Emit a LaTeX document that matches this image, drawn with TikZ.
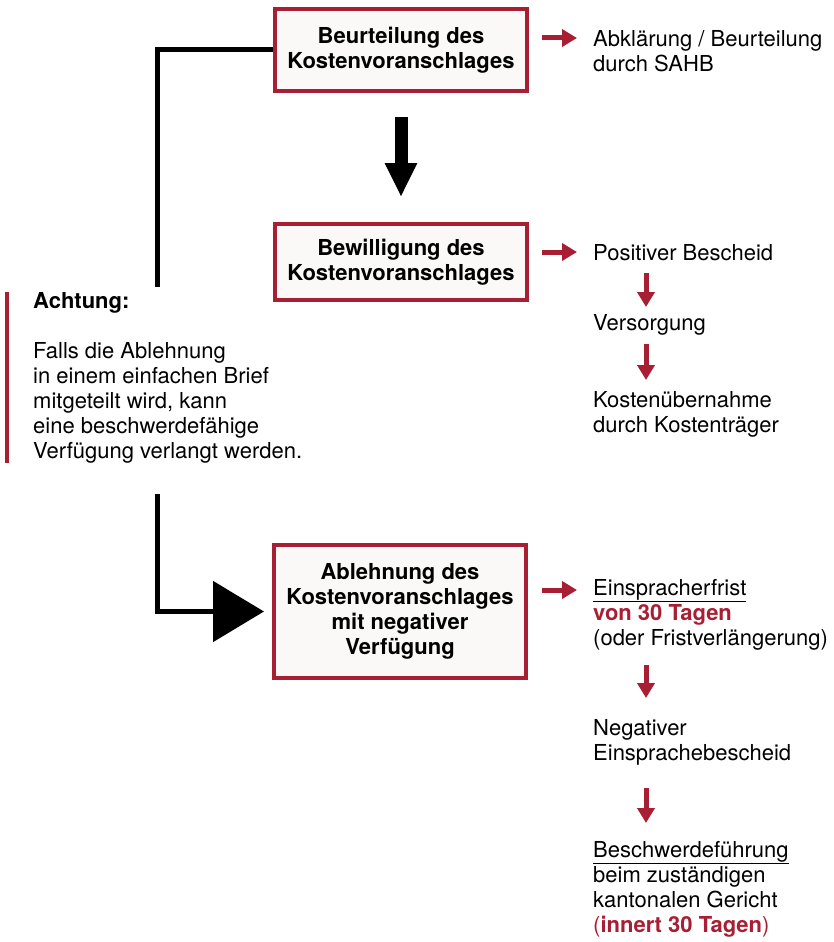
\documentclass[tikz,border=0pt]{standalone}
\usepackage{fontspec}
\setmainfont{TeX Gyre Heros}
\usetikzlibrary{arrows.meta}
\definecolor{kvred}{RGB}{168,31,52}
\definecolor{kvfill}{RGB}{250,249,247}
\tikzset{
  kvbox/.style={draw=kvred, line width=4pt, fill=kvfill, minimum width=252pt, inner sep=0pt, align=center, font=\fontsize{22}{25}\selectfont\bfseries},
  kvtext/.style={anchor=north west, inner sep=0pt, align=left, font=\fontsize{22}{25}\selectfont},
  kvarrow/.style={draw=kvred, line width=5pt, -{Triangle[length=15pt,width=17pt]}},
  kvline/.style={line width=5pt},
}
\begin{document}
\begin{tikzpicture}[x=1pt,y=-1pt]
\useasboundingbox (0,0) rectangle (833,942);
\node[kvbox, minimum height=82pt] (beurt) at (401,50) {Beurteilung des\\Kostenvoranschlages};
\node[kvbox, minimum height=76pt] (bewill) at (401,262) {Bewilligung des\\Kostenvoranschlages};
\node[kvbox, minimum height=133pt] (ablehn) at (400,611.5) {Ablehnung des\\Kostenvoranschlages\\mit negativer\\Verfügung};

\node[kvtext] (abkl) at (593,30) {Abklärung / Beurteilung\\durch SAHB};
\node[kvtext] (posit) at (593,244) {Positiver Bescheid};
\node[kvtext] (versorg) at (593,314) {Versorgung};
\node[kvtext] (uebern) at (593,391) {Kostenübernahme\\durch Kostenträger};
\node[kvtext] (frist) at (593,579) {\underline{Einspracherfrist}\\\textcolor{kvred}{\bfseries von 30 Tagen}\\(oder Fristverlängerung)};
\node[kvtext] (einspr) at (593,719) {Negativer\\Einsprachebescheid};
\node[kvtext] (beschw) at (593,841) {\underline{Beschwerdeführung}\\beim zuständigen\\kantonalen Gericht\\\textcolor{kvred}{(\textbf{innert 30 Tagen})}};
\node[kvtext] (achtung) at (33,292) {\textbf{Achtung:}\\[25pt]Falls die Ablehnung\\in einem einfachen Brief\\mitgeteilt wird, kann\\eine beschwerdefähige\\Verfügung verlangt werden.};
\draw[kvred, line width=4pt] ([xshift=-26pt]achtung.north west) -- ([xshift=-26pt]achtung.south west);

\coordinate (oben) at (157,287);
\coordinate (unten) at (157,494);
\draw[kvline] (beurt.west) -| (oben);
\draw[kvline, -{Triangle[length=51pt,width=60pt]}, shorten >=8pt] (unten) |- (ablehn.west);
\draw[line width=13pt, -{Triangle[length=34pt,width=30pt]}, shorten <=24pt, shorten >=25pt] (beurt.south) -- (bewill.north);

\coordinate (p1) at ([yshift=-8pt]abkl.north west);
\coordinate (p2) at ([yshift=-8pt]posit.north west);
\coordinate (p3) at ([yshift=-11pt]frist.north west);
\draw[kvarrow, shorten <=13pt, shorten >=16pt] (beurt.east |- p1) -- (p1);
\draw[kvarrow, shorten <=13pt, shorten >=16pt] (bewill.east |- p2) -- (p2);
\draw[kvarrow, shorten <=14pt, shorten >=16pt] (ablehn.east |- p3) -- (p3);

\coordinate (ax) at (646,0);
\draw[kvarrow, shorten <=12pt, shorten >=7pt] (posit.south -| ax) -- (versorg.north -| ax);
\draw[kvarrow, shorten <=9pt, shorten >=11pt] (versorg.south -| ax) -- (uebern.north -| ax);
\draw[kvarrow, shorten <=15pt, shorten >=21pt] (frist.south -| ax) -- (einspr.north -| ax);
\draw[kvarrow, shorten <=23pt, shorten >=18pt] (einspr.south -| ax) -- (beschw.north -| ax);
\end{tikzpicture}
\end{document}
